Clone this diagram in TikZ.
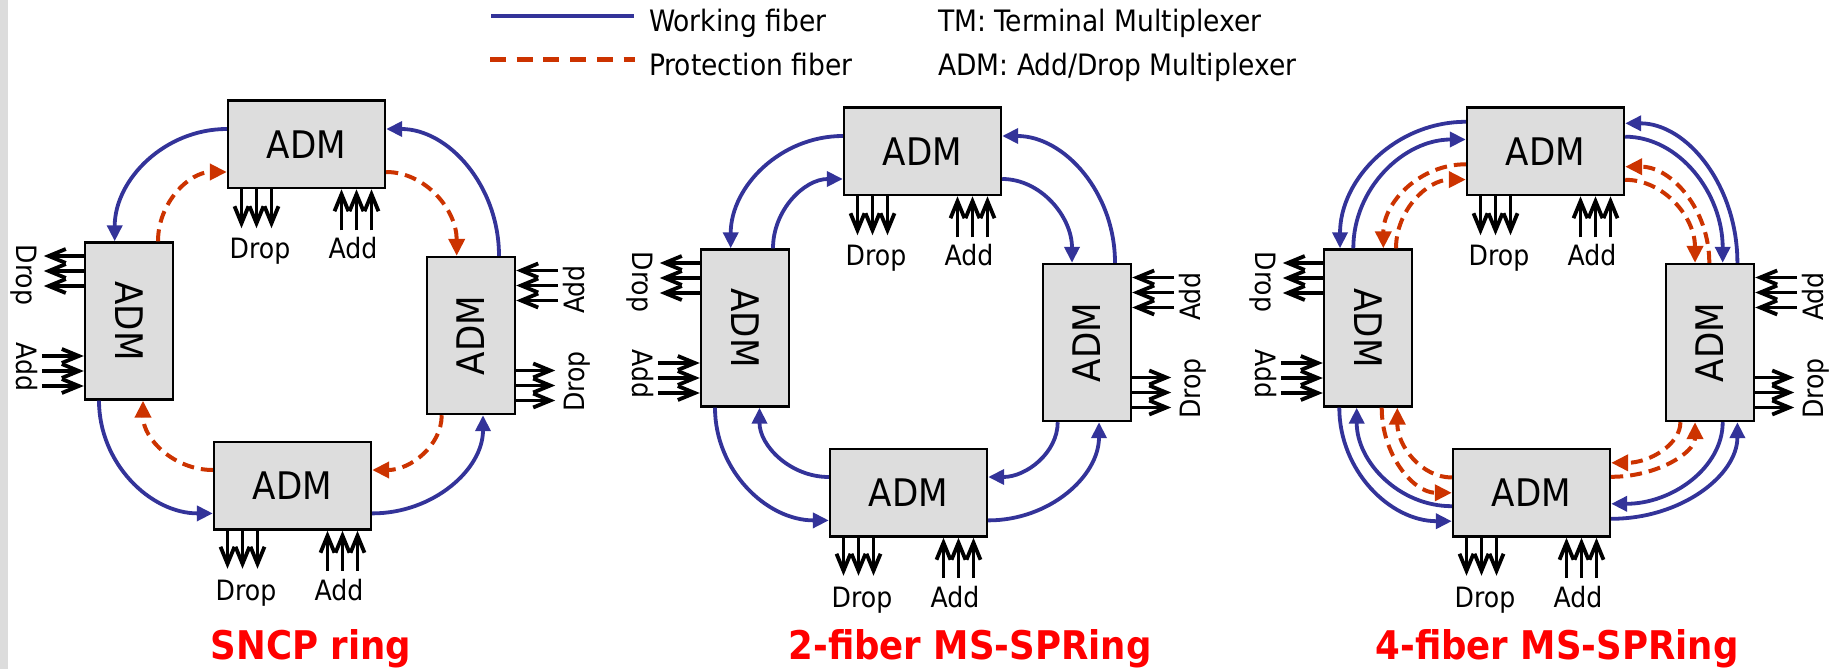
\documentclass[tikz,border=0pt]{standalone}
\usepackage{fontspec}
\setmainfont{DejaVuSansCondensed}[Extension=.ttf,BoldFont=DejaVuSansCondensed-Bold]
\usetikzlibrary{arrows.meta,calc}
\definecolor{wblue}{RGB}{51,51,153}
\definecolor{pred}{RGB}{204,51,0}
\definecolor{boxgray}{RGB}{221,221,221}
\definecolor{bargray}{RGB}{220,220,220}
\definecolor{ttlred}{RGB}{255,0,0}

\newcommand\ringboxes[3]{%
  \node[hbox] (#1T) at ({306.5+#2},{144.3+#3}) {ADM};
  \node[vbox] (#1L) at ({129+#2},{321+#3}) {\rotatebox{-90}{ADM}};
  \node[vbox] (#1R) at ({471+#2},{335.5+#3}) {\rotatebox{90}{ADM}};
  \node[hbox] (#1B) at ({292.5+#2},{485.8+#3}) {ADM};
  \foreach \k in {-65,-50,-35}{
    \draw[io] ($(#1T.south)+(\k,0)$) -- ++(0,39);
    \draw[io] ($(#1B.south)+(\k,0)$) -- ++(0,38);
    \draw[io] ($(#1L.west)+(0,\k)$) -- ++(-40,0);
    \draw[io] ($(#1R.east)+(42,\k)$) -- ++(-42,0);
  }
  \foreach \k in {35,50,65}{
    \draw[io] ($(#1T.south)+(\k,41)$) -- ++(0,-41);
    \draw[io] ($(#1B.south)+(\k,40)$) -- ++(0,-40);
    \draw[io] ($(#1L.west)+(-42,\k)$) -- ++(42,0);
    \draw[io] ($(#1R.east)+(0,\k)$) -- ++(39,0);
  }
  \node[lbl, anchor=base] (#1Td) at ($(#1T.south)+(-46.5,69)$) {Drop};
  \node[lbl, anchor=base] (#1Ta) at ($(#1T.south)+(46.5,69)$) {Add};
  \node[lbl, anchor=base] (#1Bd) at ($(#1B.south)+(-46.5,70)$) {Drop};
  \node[lbl, anchor=base] (#1Ba) at ($(#1B.south)+(46.5,70)$) {Add};
  \node[lbl, anchor=base, rotate=-90] (#1Ld) at ($(#1L.west)+(-67.5,-46)$) {Drop};
  \node[lbl, anchor=base, rotate=-90] (#1La) at ($(#1L.west)+(-67.5,46)$) {Add};
  \node[lbl, anchor=base, rotate=90] (#1Ra) at ($(#1R.east)+(68.5,-46)$) {Add};
  \node[lbl, anchor=base, rotate=90] (#1Rd) at ($(#1R.east)+(68.5,46)$) {Drop};
}
\newcommand\port[4]{\coordinate (#1) at ($(#2)+(#3,#4)$);}
% start leaves horizontally, end is entered vertically
\newcommand\hv[3]{\draw[#1] (#2) .. controls ($(#2)!0.552!(#3|-#2)$) and ($(#3)!0.552!(#3|-#2)$) .. (#3);}
% start leaves vertically, end is entered horizontally
\newcommand\vh[3]{\draw[#1] (#2) .. controls ($(#2)!0.552!(#2|-#3)$) and ($(#3)!0.552!(#2|-#3)$) .. (#3);}

\begin{document}
\begin{tikzpicture}[x=1pt,y=-1pt,
  adm/.style={draw=black, line width=2.4pt, fill=boxgray, inner sep=0pt, font=\fontsize{38}{40}\selectfont},
  hbox/.style={adm, minimum width=157pt, minimum height=87.5pt},
  vbox/.style={adm, minimum width=88pt, minimum height=157pt},
  io/.style={line width=3.8pt, -{Straight Barb[length=17pt,width=14pt]}},
  lbl/.style={font=\fontsize{28}{30}\selectfont, inner sep=0pt},
  leg/.style={font=\fontsize{29.5}{32}\selectfont, inner sep=0pt},
  ttl/.style={font=\fontsize{39.5}{42}\selectfont\bfseries, text=ttlred, inner sep=0pt},
  wf/.style={wblue, line width=3.8pt, -{Triangle[length=16pt,width=15pt]}},
  pf/.style={pred, line width=4pt, dash pattern=on 12pt off 7pt, -{Triangle[length=17pt,width=16pt]}}]
\useasboundingbox (0,0) rectangle (1834,669);
\fill[bargray] (0,0) rectangle (8,669);

% legend
\coordinate (lw1) at (491,16); \coordinate (lw2) at (634,16);
\coordinate (lp1) at (490,59.3); \coordinate (lp2) at (635,59.3);
\draw[wblue, line width=3.4pt] (lw1) -- (lw2);
\draw[pred, line width=4.8pt, dash pattern=on 16pt off 10.7pt] (lp1) -- (lp2);
\node[leg, anchor=base west] (legw) at (649,31.7) {Working fiber};
\node[leg, anchor=base west] (legp) at (649,75) {Protection fiber};
\node[leg, anchor=base west] (legtm) at (938,31.7) {TM: Terminal Multiplexer};
\node[leg, anchor=base west] (legadm) at (938,75) {ADM: Add/Drop Multiplexer};

% ===== SNCP ring =====
\ringboxes{s}{0}{0}
\port{sO1a}{sT.west}{0}{-15.3} \port{sO1b}{sL.north}{-14.3}{0}
\port{sO2a}{sL.south}{-30}{0}  \port{sO2b}{sB.west}{0}{27.6}
\port{sO3a}{sB.east}{0}{27.6}  \port{sO3b}{sR.south}{12}{0}
\port{sO4a}{sR.north}{28}{0}   \port{sO4b}{sT.east}{0}{-15.3}
\port{sI1a}{sL.north}{29}{0}   \port{sI1b}{sT.west}{0}{27.7}
\port{sI2a}{sT.east}{0}{27.7}  \port{sI2b}{sR.north}{-14.3}{0}
\port{sI3a}{sR.south}{-29.3}{0} \port{sI3b}{sB.east}{0}{-15.8}
\port{sI4a}{sB.west}{0}{-15.8} \port{sI4b}{sL.south}{14}{0}
\hv{wf}{sO1a}{sO1b} \vh{wf}{sO2a}{sO2b} \hv{wf}{sO3a}{sO3b} \vh{wf}{sO4a}{sO4b}
\vh{pf}{sI1a}{sI1b} \hv{pf}{sI2a}{sI2b} \vh{pf}{sI3a}{sI3b} \hv{pf}{sI4a}{sI4b}
\node[ttl, anchor=base] (sttl) at (311,659) {SNCP ring};

% ===== 2-fiber MS-SPRing =====
\ringboxes{w}{616}{7}
\port{wO1a}{wT.west}{0}{-15.3} \port{wO1b}{wL.north}{-14.3}{0}
\port{wO2a}{wL.south}{-30}{0}  \port{wO2b}{wB.west}{0}{27.6}
\port{wO3a}{wB.east}{0}{27.6}  \port{wO3b}{wR.south}{12}{0}
\port{wO4a}{wR.north}{28}{0}   \port{wO4b}{wT.east}{0}{-15.3}
\port{wI1a}{wL.north}{28}{0}   \port{wI1b}{wT.west}{0}{27.7}
\port{wI2a}{wT.east}{0}{27.7}  \port{wI2b}{wR.north}{-15}{0}
\port{wI3a}{wR.south}{-29.3}{0} \port{wI3b}{wB.east}{0}{-15.8}
\port{wI4a}{wB.west}{0}{-15.8} \port{wI4b}{wL.south}{14.5}{0}
\hv{wf}{wO1a}{wO1b} \vh{wf}{wO2a}{wO2b} \hv{wf}{wO3a}{wO3b} \vh{wf}{wO4a}{wO4b}
\vh{wf}{wI1a}{wI1b} \hv{wf}{wI2a}{wI2b} \vh{wf}{wI3a}{wI3b} \hv{wf}{wI4a}{wI4b}
\node[ttl, anchor=base] (wttl) at (970,659) {2-fiber MS-SPRing};

% ===== 4-fiber MS-SPRing =====
\ringboxes{f}{1239}{7}
% top-left
\port{fA1a}{fT.west}{0}{-29.5} \port{fA1b}{fL.north}{-28}{0}
\port{fA2a}{fL.north}{-14.7}{0} \port{fA2b}{fT.west}{0}{-11.8}
\port{fA3a}{fT.west}{0}{13}    \port{fA3b}{fL.north}{15.3}{0}
\port{fA4a}{fL.north}{28}{0}   \port{fA4b}{fT.west}{0}{28.3}
\hv{wf}{fA1a}{fA1b} \vh{wf}{fA2a}{fA2b} \hv{pf}{fA3a}{fA3b} \vh{pf}{fA4a}{fA4b}
% bottom-left
\port{fB1a}{fL.south}{-28.7}{0} \port{fB1b}{fB.west}{0}{28.4}
\port{fB2a}{fB.west}{0}{13.4}   \port{fB2b}{fL.south}{-11.3}{0}
\port{fB3a}{fL.south}{13.7}{0}  \port{fB3b}{fB.west}{0}{0}
\port{fB4a}{fB.west}{0}{-15.3}  \port{fB4b}{fL.south}{29.3}{0}
\vh{wf}{fB1a}{fB1b} \hv{wf}{fB2a}{fB2b} \vh{pf}{fB3a}{fB3b} \hv{pf}{fB4a}{fB4b}
% top-right
\port{fC1a}{fR.north}{27.4}{0}  \port{fC1b}{fT.east}{0}{-28}
\port{fC2a}{fT.east}{0}{-14.6}  \port{fC2b}{fR.north}{12.7}{0}
\port{fC3a}{fR.north}{-0.7}{0}  \port{fC3b}{fT.east}{0}{15.4}
\port{fC4a}{fT.east}{0}{28.5}   \port{fC4b}{fR.north}{-15}{0}
\vh{wf}{fC1a}{fC1b} \hv{wf}{fC2a}{fC2b} \vh{pf}{fC3a}{fC3b} \hv{pf}{fC4a}{fC4b}
% bottom-right
\port{fD1a}{fB.east}{0}{26}     \port{fD1b}{fR.south}{27.4}{0}
\port{fD2a}{fR.south}{12.7}{0}  \port{fD2b}{fB.east}{0}{11}
\port{fD3a}{fB.east}{0}{-16}    \port{fD3b}{fR.south}{-15}{0}
\port{fD4a}{fR.south}{-29.6}{0} \port{fD4b}{fB.east}{0}{-30}
\hv{wf}{fD1a}{fD1b} \vh{wf}{fD2a}{fD2b} \hv{pf}{fD3a}{fD3b} \vh{pf}{fD4a}{fD4b}
\node[ttl, anchor=base] (fttl) at (1557,659) {4-fiber MS-SPRing};
\end{tikzpicture}
\end{document}
